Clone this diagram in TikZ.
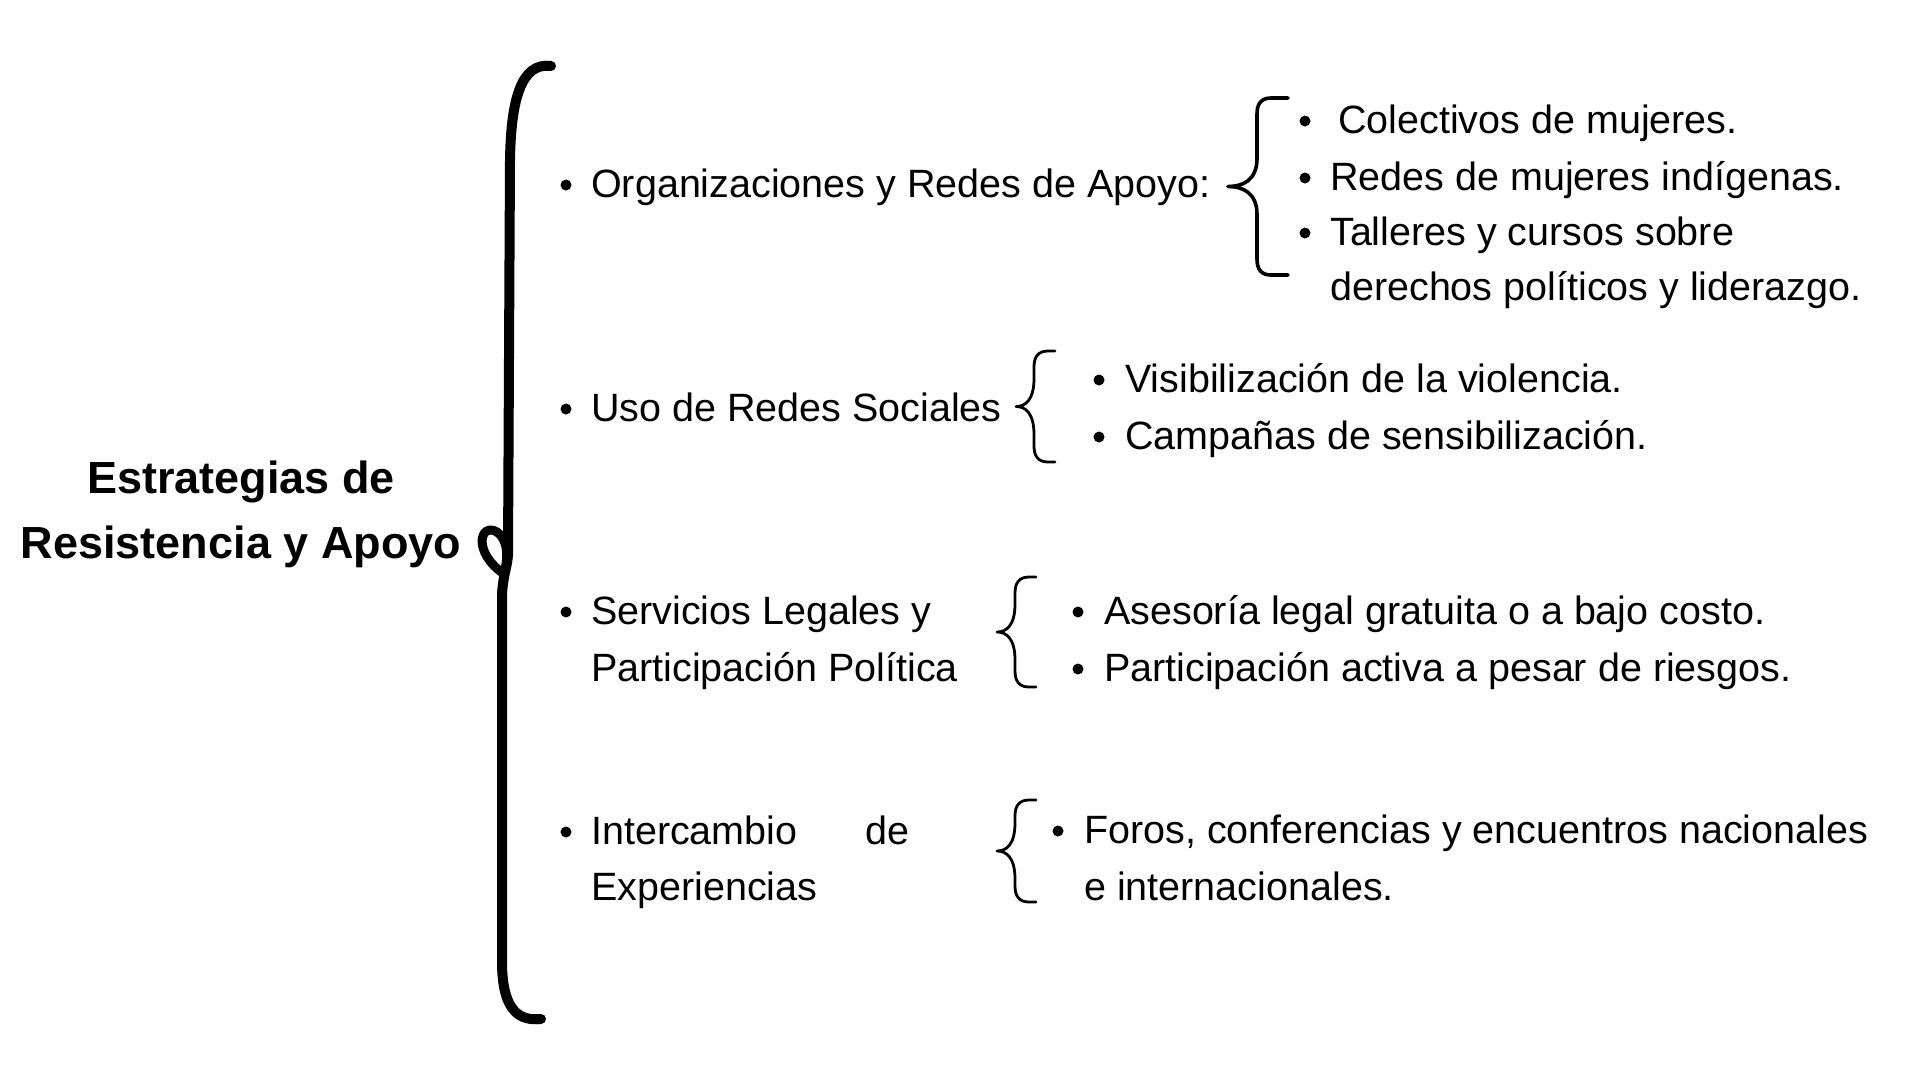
\documentclass[tikz,border=0pt]{standalone}
\usepackage{fontspec}
\setmainfont{Liberation Sans}

% bullet dot in front of a text line
\newcommand{\bul}[2][26]{\fill ([xshift=-#1pt,yshift=12pt]#2.base west) circle (5.5pt);}
% curly brace: style, hook end x, stem x, tip x, top y, bottom y
\newcommand{\curly}[6]{%
    \draw[#1] (#2,#5) -- ({#3+14},#5) .. controls ({#3+4},#5) and (#3,{#5+6}) .. (#3,{#5+16})
        -- (#3,{(#5+#6)/2-28}) .. controls (#3,{(#5+#6)/2-6}) and ({(#3+#4)/2},{(#5+#6)/2}) .. (#4,{(#5+#6)/2})
        .. controls ({(#3+#4)/2},{(#5+#6)/2}) and (#3,{(#5+#6)/2+6}) .. (#3,{(#5+#6)/2+28})
        -- (#3,{#6-16}) .. controls (#3,{#6-6}) and ({#3+4},#6) .. ({#3+14},#6) -- (#2,#6);}

\begin{document}
\begin{tikzpicture}[x=1pt,y=-1pt,
    titletext/.style={anchor=base,inner sep=0pt,font=\fontsize{45}{54}\selectfont\bfseries},
    itemtext/.style={anchor=base west,inner sep=0pt,font=\fontsize{39.5}{48}\selectfont},
    thinbrace/.style={line width=2.8pt,line cap=round,line join=round},
    thickbrace/.style={line width=3.6pt,line cap=round,line join=round}]

    \useasboundingbox (0,0) rectangle (1920,1080);

    % Title
    \node[titletext] (tit1) at (241,493) {Estrategias de};
    \node[titletext] (tit2) at (241,558) {Resistencia y Apoyo};

    % Big brace
    \draw[line width=10pt,line cap=round] (551,66) .. controls (521,62) and (511,100) .. (510,160)
        -- (508,555) .. controls (507,568) and (503,575) .. (502,595) -- (502,965)
        .. controls (503,1012) and (520,1021) .. (541,1019);
    \draw[line width=9pt] (504,574) .. controls (472,552) and (480,522) .. (497,532)
        .. controls (509,540) and (508,560) .. (504,574);

    % Main items
    \node[itemtext] (org) at (591,197) {Organizaciones y Redes de Apoyo:};
    \node[itemtext] (uso) at (591,421) {Uso de Redes Sociales};
    \node[itemtext] (ser1) at (591,624) {Servicios Legales y};
    \node[itemtext] (ser2) at (591,681) {Participación Política};
    \node[itemtext] (int1) at (591,844) {\makebox[318pt][s]{Intercambio de}};
    \node[itemtext] (int2) at (591,900) {Experiencias};
    \bul[25]{org} \bul[25]{uso} \bul[25]{ser1} \bul[25]{int1}

    % Organizaciones
    \curly{thickbrace}{1288}{1257}{1228}{98}{275}
    \node[itemtext] (col) at (1338,133) {Colectivos de mujeres.};
    \node[itemtext] (red) at (1330,190) {Redes de mujeres indígenas.};
    \node[itemtext] (tal1) at (1330,245) {Talleres y cursos sobre};
    \node[itemtext] (tal2) at (1330,300) {derechos políticos y liderazgo.};
    \bul[33]{col} \bul[25]{red} \bul[25]{tal1}

    % Redes sociales
    \curly{thinbrace}{1055}{1034}{1016}{351}{462}
    \node[itemtext] (vis) at (1125,392) {Visibilización de la violencia.};
    \node[itemtext] (cam) at (1125,449) {Campañas de sensibilización.};
    \bul{vis} \bul{cam}

    % Servicios legales
    \curly{thinbrace}{1036}{1015}{997}{577}{687}
    \node[itemtext] (ase) at (1104,624) {Asesoría legal gratuita o a bajo costo.};
    \node[itemtext] (par) at (1104,681) {Participación activa a pesar de riesgos.};
    \bul{ase} \bul{par}

    % Intercambio
    \curly{thinbrace}{1036}{1015}{997}{800}{902}
    \node[itemtext] (for1) at (1084,843) {Foros, conferencias y encuentros nacionales};
    \node[itemtext] (for2) at (1084,900) {e internacionales.};
    \bul{for1}

\end{tikzpicture}
\end{document}
